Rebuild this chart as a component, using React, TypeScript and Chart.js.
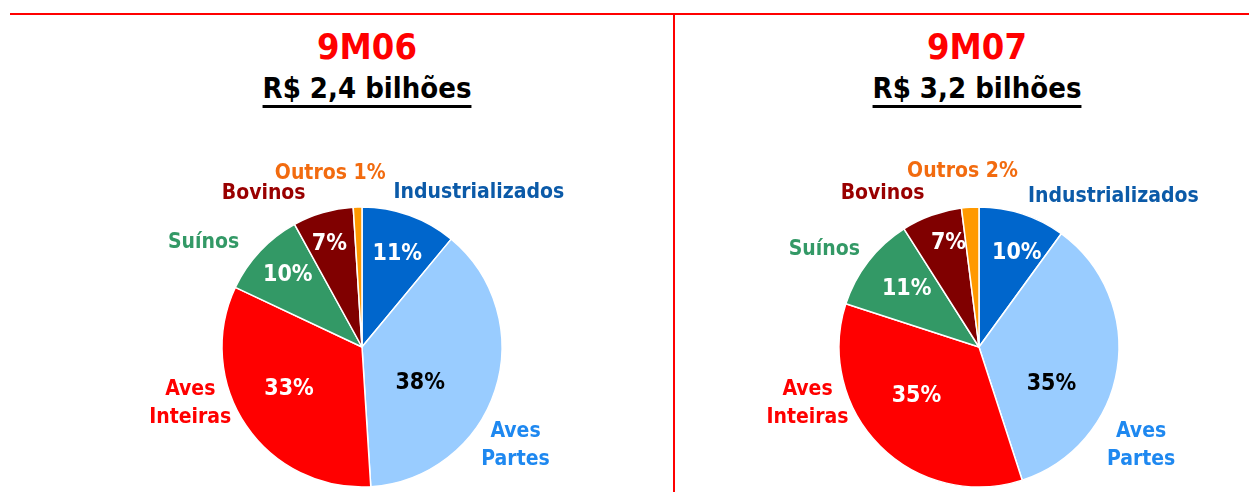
import React, { useEffect, useRef } from "react";
import { Chart, registerables } from "chart.js";

Chart.register(...registerables);

// ---- data ----
const categories = ["Industrializados", "Aves Partes", "Aves Inteiras", "Suínos", "Bovinos", "Outros"];
const labelLines = [["Industrializados"], ["Aves", "Partes"], ["Aves", "Inteiras"], ["Suínos"], ["Bovinos"], ["Outros"]];
const values9M06 = [11, 38, 33, 10, 7, 1];
const values9M07 = [10, 35, 35, 11, 7, 2];
const periods = ["9M06", "9M07"];
const totals = ["R$ 2,4 bilhões", "R$ 3,2 bilhões"];
const innerShown = [true, true, true, true, true, false];

// ---- styles ----
const sliceColors = ["#0066CC", "#99CCFF", "#FF0000", "#339966", "#800000", "#FF9900"];
const labelColors = ["#0B5AA8", "#1E88F0", "#FF0000", "#339966", "#990000", "#F26B0F"];
const pctColors = ["#FFFFFF", "#000000", "#FFFFFF", "#FFFFFF", "#FFFFFF", "#FFFFFF"];
const labelAlign = ["left", "center", "center", "right", "right", "center"];
const FONT = "'DejaVu Sans Condensed', 'DejaVu Sans', sans-serif";

// label nudges (px) relative to arc-based anchors
const labelNudge06 = [[-20, -11], [9, 52], [-46, -29], [-12, 0], [-14, -7], [-27, -22]];
const labelNudge07 = [[2, -6], [12, 75], [-64, -51], [1, -4], [-3, -10], [-7, -24]];
const pctNudge06 = [[3, -3], [-10, 14], [-10, -1], [-4, -6], [-5, -8], [0, 0]];
const pctNudge07 = [[8, -2], [-1, 25], [-10, -4], [3, 0], [3, -11], [0, 0]];

const sliceLabelsPlugin = {
  id: "sliceLabels",
  afterDatasetsDraw(chart: any, _args: any, opts: any) {
    const ctx = chart.ctx;
    const meta = chart.getDatasetMeta(0);
    const values: number[] = chart.data.datasets[0].data;
    const total = values.reduce((a, b) => a + b, 0);
    ctx.save();
    meta.data.forEach((arc: any, i: number) => {
      const { x, y, startAngle, endAngle, outerRadius } = arc.getProps(
        ["x", "y", "startAngle", "endAngle", "outerRadius"],
        true
      );
      const mid = (startAngle + endAngle) / 2;
      const share = values[i] / total;
      const pctText = values[i] + "%";
      if (innerShown[i]) {
        const f = 0.5 + 0.25 * (1 - share / 0.4);
        const [nx, ny] = opts.pctNudge[i];
        ctx.font = `bold 23px ${FONT}`;
        ctx.fillStyle = pctColors[i];
        ctx.textAlign = "center";
        ctx.textBaseline = "middle";
        ctx.fillText(pctText, x + Math.cos(mid) * outerRadius * f + nx, y + Math.sin(mid) * outerRadius * f + ny);
      }
      const R = outerRadius + 12;
      const [lx, ly] = opts.labelNudge[i];
      const ax = x + Math.cos(mid) * R + lx;
      const ay = y + Math.sin(mid) * R + ly;
      const lines = innerShown[i] ? labelLines[i] : [labelLines[i][0] + " " + pctText];
      ctx.font = `bold 21px ${FONT}`;
      ctx.fillStyle = labelColors[i];
      ctx.textAlign = labelAlign[i];
      ctx.textBaseline = "middle";
      const lh = 28;
      lines.forEach((ln: string, k: number) => {
        ctx.fillText(ln, ax, ay + (k - (lines.length - 1) / 2) * lh);
      });
    });
    ctx.restore();
  },
};

function PieChart(props: {
  values: number[];
  left: number;
  width: number;
  labelNudge: number[][];
  pctNudge: number[][];
}) {
  const ref = useRef<HTMLCanvasElement | null>(null);
  useEffect(() => {
    if (!ref.current) return;
    const chart = new Chart(ref.current, {
      type: "pie",
      data: {
        labels: categories,
        datasets: [
          {
            data: props.values,
            backgroundColor: sliceColors,
            borderColor: "#FFFFFF",
            borderWidth: 1.5,
            radius: 140,
          } as any,
        ],
      },
      options: {
        responsive: false,
        animation: false,
        devicePixelRatio: 1,
        layout: { padding: { top: 92, bottom: 0, left: 0, right: 0 } },
        plugins: {
          legend: { display: false },
          tooltip: { enabled: false },
          title: { display: false },
          sliceLabels: { labelNudge: props.labelNudge, pctNudge: props.pctNudge },
        } as any,
      },
      plugins: [sliceLabelsPlugin],
    });
    return () => chart.destroy();
  }, []);
  return (
    <canvas
      ref={ref}
      width={props.width}
      height={382}
      style={{ position: "absolute", left: props.left, top: 110, width: props.width, height: 382 }}
    />
  );
}

function Titles(props: { center: number; period: string; total: string }) {
  return (
    <>
      <div
        style={{
          position: "absolute",
          left: props.center - 200,
          width: 400,
          top: 29,
          textAlign: "center",
          font: `bold 36px ${FONT}`,
          lineHeight: "36px",
          color: "#FF0000",
        }}
      >
        {props.period}
      </div>
      <div
        style={{
          position: "absolute",
          left: props.center - 200,
          width: 400,
          top: 74,
          textAlign: "center",
          font: `bold 29px ${FONT}`,
          lineHeight: "29px",
          color: "#000000",
          textDecoration: "underline",
          textDecorationThickness: "3px",
          textUnderlineOffset: "7px",
        }}
      >
        {props.total}
      </div>
    </>
  );
}

export default function App() {
  return (
    <div
      style={{
        position: "fixed",
        left: 0,
        top: 0,
        width: 1249,
        height: 492,
        background: "#FFFFFF",
        overflow: "hidden",
      }}
    >
      <div style={{ position: "absolute", left: 10, top: 13, width: 1239, height: 2, background: "#FF0000" }} />
      <div style={{ position: "absolute", left: 673, top: 13, width: 2, height: 479, background: "#FF0000" }} />
      <Titles center={367} period={periods[0]} total={totals[0]} />
      <Titles center={977} period={periods[1]} total={totals[1]} />
      <PieChart values={values9M06} left={60} width={604} labelNudge={labelNudge06} pctNudge={pctNudge06} />
      <PieChart values={values9M07} left={710} width={538} labelNudge={labelNudge07} pctNudge={pctNudge07} />
    </div>
  );
}
